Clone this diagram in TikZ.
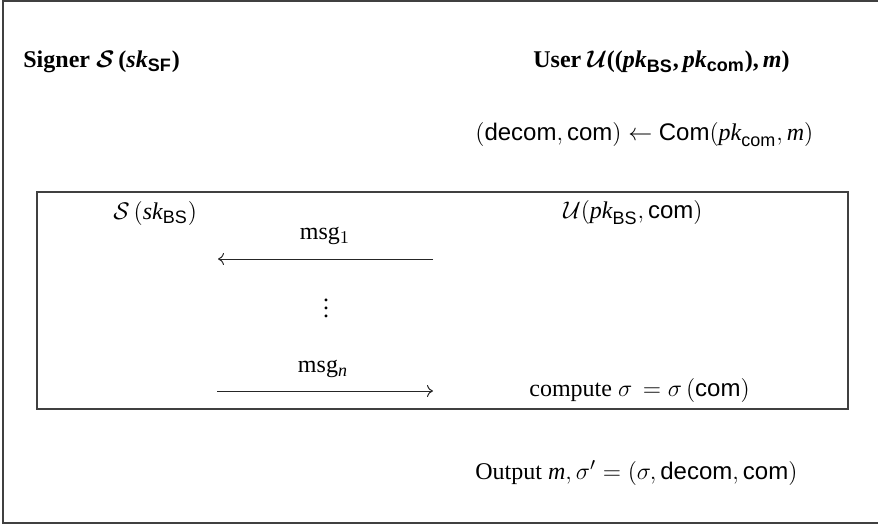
\documentclass[tikz,border=0pt]{standalone}
\usepackage{amsmath,amssymb}
\usepackage{fontspec}
\usetikzlibrary{arrows.meta}
\setmainfont{Liberation Serif}
\setsansfont{Liberation Sans}
\DeclareMathSizes{12}{12}{9}{7}
\newcommand{\MyIt}[1]{\textit{#1}}
\newcommand{\MySf}[1]{\textsf{#1}}
\begin{document}
\begin{tikzpicture}[x=0.5pt,y=-0.5pt,
  lbl/.style={inner sep=0pt,font=\fontsize{12}{14}\selectfont},
  boxline/.style={draw=black!75,line width=0.7pt},
  msgarrow/.style={draw=black!85,line width=0.5pt,-{To[length=3pt,width=6pt]}}]
\useasboundingbox (0,0) rectangle (878,524);
\draw[boxline] (879,1) -- (3,1) -- (3,523) -- (879,523);
\draw[boxline] (37,192) rectangle (848,409);
\node[lbl,anchor=west] (signer) at (23,62) {\bfseries Signer $\boldsymbol{\mathcal{S}}$\,(\textit{sk}\textsubscript{\sffamily SF})};
\node[lbl,anchor=west] (user) at (533,62) {\bfseries User $\boldsymbol{\mathcal{U}}$((\textit{pk}\textsubscript{\sffamily BS},\,\textit{pk}\textsubscript{\sffamily com}),\,\textit{m})};
\node[lbl,anchor=west] (commit) at (475,135) {$(\MySf{decom},\MySf{com})\leftarrow\MySf{Com}(\MyIt{pk}_{\MySf{com}},\MyIt{m})$};
\node[lbl,anchor=west] (sbs) at (113,213) {$\mathcal{S}\,(\MyIt{sk}_{\MySf{BS}})$};
\node[lbl,anchor=west] (ubs) at (563,213) {$\mathcal{U}(\MyIt{pk}_{\MySf{BS}},\MySf{com})$};
\coordinate (r1) at (433,259);
\coordinate (l1) at (218,259);
\draw[msgarrow] (r1) -- (l1);
\node[lbl] (msg1) at (325,236) {msg$_1$};
\node[lbl] (dots) at (326,302) {$\vdots$};
\coordinate (ln) at (217,391);
\coordinate (rn) at (433,391);
\draw[msgarrow] (ln) -- (rn);
\node[lbl] (msgn) at (323,369) {msg$_{\MyIt{n}}$};
\node[lbl,anchor=west] (compute) at (529,390) {compute $\sigma\,=\sigma\,(\MySf{com})$};
\node[lbl,anchor=west] (out) at (475,473) {Output $\MyIt{m},\sigma'=(\sigma,\MySf{decom},\MySf{com})$};
\end{tikzpicture}
\end{document}
